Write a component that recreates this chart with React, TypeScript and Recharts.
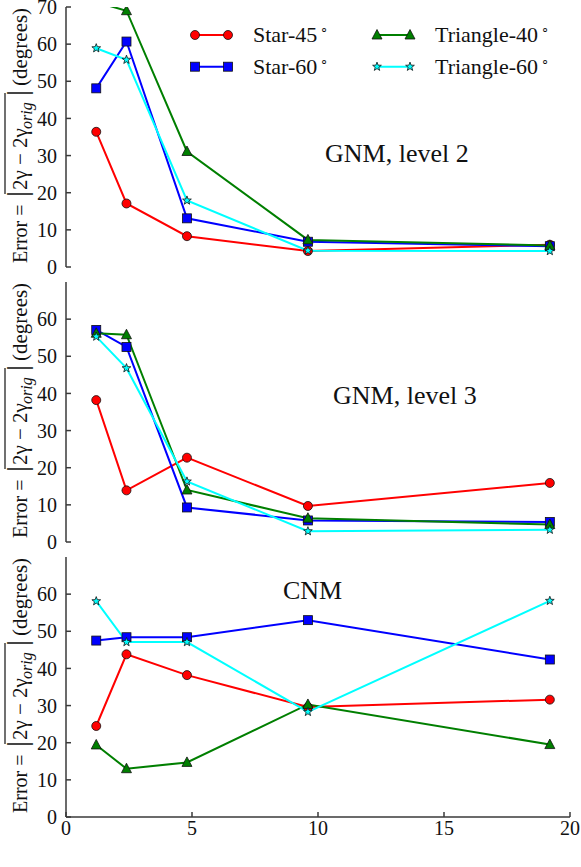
import { LineChart, Line, XAxis, YAxis, Legend } from 'recharts';

// x positions: R_t / delta x
const rtOverDx = [1.2, 2.4, 4.8, 9.6, 19.2];
const xTicks = [0, 5, 10, 15, 20];
const yTicksTop = [0, 10, 20, 30, 40, 50, 60, 70];
const yTicks = [0, 10, 20, 30, 40, 50, 60];

// GNM, level 2
const l2Star45 = [36.4, 17.1, 8.3, 4.3, 6.0];
const l2Star60 = [48.1, 60.7, 13.1, 6.8, 5.6];
const l2Tri40 = [71.3, 69.0, 31.1, 7.3, 5.8];
const l2Tri60 = [58.9, 55.8, 17.9, 4.4, 4.3];

// GNM, level 3
const l3Star45 = [38.2, 13.9, 22.7, 9.7, 15.9];
const l3Star60 = [57.1, 52.5, 9.3, 5.8, 5.4];
const l3Tri40 = [56.2, 55.8, 14.0, 6.4, 4.7];
const l3Tri60 = [55.3, 46.8, 16.3, 2.9, 3.3];

// CNM
const cnmStar45 = [24.5, 43.8, 38.2, 29.6, 31.6];
const cnmStar60 = [47.5, 48.4, 48.4, 53.0, 42.4];
const cnmTri40 = [19.4, 13.0, 14.7, 30.3, 19.5];
const cnmTri60 = [58.1, 47.1, 47.1, 28.3, 58.2];

const FONT = '"Liberation Serif", "Times New Roman", serif';
const AXIS = '#3a3a3a';

const seriesDefs = [
  { key: 'star45', name: 'Star-45', color: '#ff0000', shape: 'circle' },
  { key: 'star60', name: 'Star-60', color: '#0000ff', shape: 'square' },
  { key: 'tri40', name: 'Triangle-40', color: '#007f00', shape: 'triangle' },
  { key: 'tri60', name: 'Triangle-60', color: '#00ffff', shape: 'star' },
];

const buildRows = (a: number[], b: number[], c: number[], d: number[]) =>
  rtOverDx.map((x, i) => ({ x, star45: a[i], star60: b[i], tri40: c[i], tri60: d[i] }));

const level2Rows = buildRows(l2Star45, l2Star60, l2Tri40, l2Tri60);
const level3Rows = buildRows(l3Star45, l3Star60, l3Tri40, l3Tri60);
const cnmRows = buildRows(cnmStar45, cnmStar60, cnmTri40, cnmTri60);

function starPath(cx: number, cy: number, ro: number, ri: number) {
  let d = '';
  for (let i = 0; i < 10; i++) {
    const r = i % 2 === 0 ? ro : ri;
    const a = -Math.PI / 2 + (i * Math.PI) / 5;
    d += (i === 0 ? 'M' : 'L') + (cx + r * Math.cos(a)).toFixed(2) + ',' + (cy + r * Math.sin(a)).toFixed(2);
  }
  return d + 'Z';
}

function Marker({ shape, cx, cy, color }: any) {
  if (cx == null || cy == null) return null;
  const edge = { stroke: '#111', strokeWidth: 0.8 };
  if (shape === 'circle') return <circle cx={cx} cy={cy} r={4.5} fill={color} {...edge} />;
  if (shape === 'square') return <rect x={cx - 4.5} y={cy - 4.5} width={9} height={9} fill={color} {...edge} />;
  if (shape === 'triangle')
    return <polygon points={`${cx},${cy - 5.5} ${cx - 5},${cy + 4} ${cx + 5},${cy + 4}`} fill={color} {...edge} />;
  return <path d={starPath(cx, cy, 4.6, 1.9)} fill={color} {...edge} />;
}

// rotated label: Error = |2γ − 2γ_orig| (degrees), with overline
function YLabel({ viewBox }: any) {
  const base = viewBox.y + viewBox.height - 4;
  return (
    <g transform={`translate(27, ${base}) rotate(-90)`} fontFamily={FONT} fill="#111">
      <text x={0} y={0} fontSize={20}>Error =</text>
      <text x={69} y={0} fontSize={30} textAnchor="middle">|</text>
      <text x={73} y={0} fontSize={21}>2γ − 2γ</text>
      <text x={134} y={5} fontSize={16} fontStyle="italic">orig</text>
      <text x={170} y={0} fontSize={30} textAnchor="middle">|</text>
      <line x1={69} x2={170} y1={-22} y2={-22} stroke="#111" strokeWidth={1.2} />
      <text x={177} y={0} fontSize={21}>(degrees)</text>
    </g>
  );
}

function XLabel({ viewBox }: any) {
  const cx = viewBox.x + viewBox.width / 2;
  return (
    <text x={cx} y={858} textAnchor="middle" fontFamily={FONT} fontSize={21} fill="#111">
      R<tspan fontSize={14} dy={4}>t</tspan>
      <tspan dy={-4}>/δx</tspan>
    </text>
  );
}

function LegendBox() {
  const rows = [
    { s: seriesDefs[0], x: 5, y: 17 },
    { s: seriesDefs[1], x: 5, y: 48.7 },
    { s: seriesDefs[2], x: 187, y: 17 },
    { s: seriesDefs[3], x: 187, y: 48.7 },
  ];
  return (
    <svg width={390} height={70}>
      {rows.map(({ s, x, y }) => (
        <g key={s.key}>
          <line x1={x} x2={x + 33} y1={y} y2={y} stroke={s.color} strokeWidth={2} />
          <Marker shape={s.shape} cx={x} cy={y} color={s.color} />
          <Marker shape={s.shape} cx={x + 33} cy={y} color={s.color} />
          <text x={x + 58} y={y + 7} fontFamily={FONT} fontSize={22} fill="#111">
            {s.name}
            <tspan dx={3} dy={-9} fontSize={13}>∘</tspan>
          </text>
        </g>
      ))}
    </svg>
  );
}

function ErrorPanel({ rows, top, ticks, bottomAxis, legend }: any) {
  const height = bottomAxis ? 317 : 280;
  return (
    <div style={{ position: 'absolute', left: 0, top }}>
      <LineChart
        width={581}
        height={height}
        data={rows}
        margin={{ top: 7, right: 11, bottom: bottomAxis ? 0 : 13, left: 0 }}
      >
        <XAxis
          xAxisId="b"
          dataKey="x"
          type="number"
          domain={[0, 20]}
          ticks={xTicks}
          interval={0}
          allowDataOverflow
          height={bottomAxis ? 50 : 0}
          tickSize={-5}
          tickMargin={9}
          tick={bottomAxis ? { fontFamily: FONT, fontSize: 20, fill: '#111' } : false}
          stroke={AXIS}
          strokeWidth={1.5}
          label={bottomAxis ? { content: (p: any) => <XLabel viewBox={p.viewBox} /> } : undefined}
        />
        <XAxis
          xAxisId="t"
          orientation="top"
          dataKey="x"
          type="number"
          domain={[0, 20]}
          ticks={xTicks}
          interval={0}
          height={0}
          mirror
          tick={false}
          tickSize={5}
          stroke={AXIS}
          strokeWidth={1.5}
        />
        <YAxis
          yAxisId="l"
          type="number"
          domain={[0, 70]}
          ticks={ticks}
          interval={0}
          allowDataOverflow
          width={66}
          tickSize={-5}
          tickMargin={14}
          tick={{ fontFamily: FONT, fontSize: 20, fill: '#111' }}
          stroke={AXIS}
          strokeWidth={1.5}
          label={{ content: (p: any) => <YLabel viewBox={p.viewBox} /> }}
        />
        <YAxis
          yAxisId="r"
          orientation="right"
          type="number"
          domain={[0, 70]}
          ticks={ticks}
          interval={0}
          width={0}
          mirror
          tick={false}
          tickSize={5}
          stroke={AXIS}
          strokeWidth={1.5}
        />
        {legend && (
          <Legend
            layout="vertical"
            align="center"
            verticalAlign="middle"
            wrapperStyle={{ position: 'absolute', top: 18, left: 190, width: 390, height: 70 }}
            content={() => <LegendBox />}
          />
        )}
        {seriesDefs.map((s) => (
          <Line
            key={s.key}
            xAxisId="b"
            yAxisId="l"
            dataKey={s.key}
            name={s.name}
            stroke={s.color}
            strokeWidth={2}
            isAnimationActive={false}
            dot={(p: any) => <Marker key={`${s.key}-${p.index}`} shape={s.shape} cx={p.cx} cy={p.cy} color={s.color} />}
          />
        ))}
      </LineChart>
    </div>
  );
}

export default function App() {
  return (
    <div
      style={{
        position: 'absolute',
        left: 0,
        top: 0,
        width: 581,
        height: 867,
        background: '#fff',
        fontFamily: FONT,
      }}
    >
      <ErrorPanel rows={level2Rows} top={0} ticks={yTicksTop} legend />
      <ErrorPanel rows={level3Rows} top={275} ticks={yTicks} />
      <ErrorPanel rows={cnmRows} top={550} ticks={yTicks} bottomAxis />
      <svg width={581} height={867} style={{ position: 'absolute', left: 0, top: 0, pointerEvents: 'none' }}>
        <g fontFamily={FONT} fontSize={26} fill="#111">
          <text x={325} y={162}>GNM, level 2</text>
          <text x={333} y={404}>GNM, level 3</text>
          <text x={283} y={599}>CNM</text>
        </g>
      </svg>
    </div>
  );
}
